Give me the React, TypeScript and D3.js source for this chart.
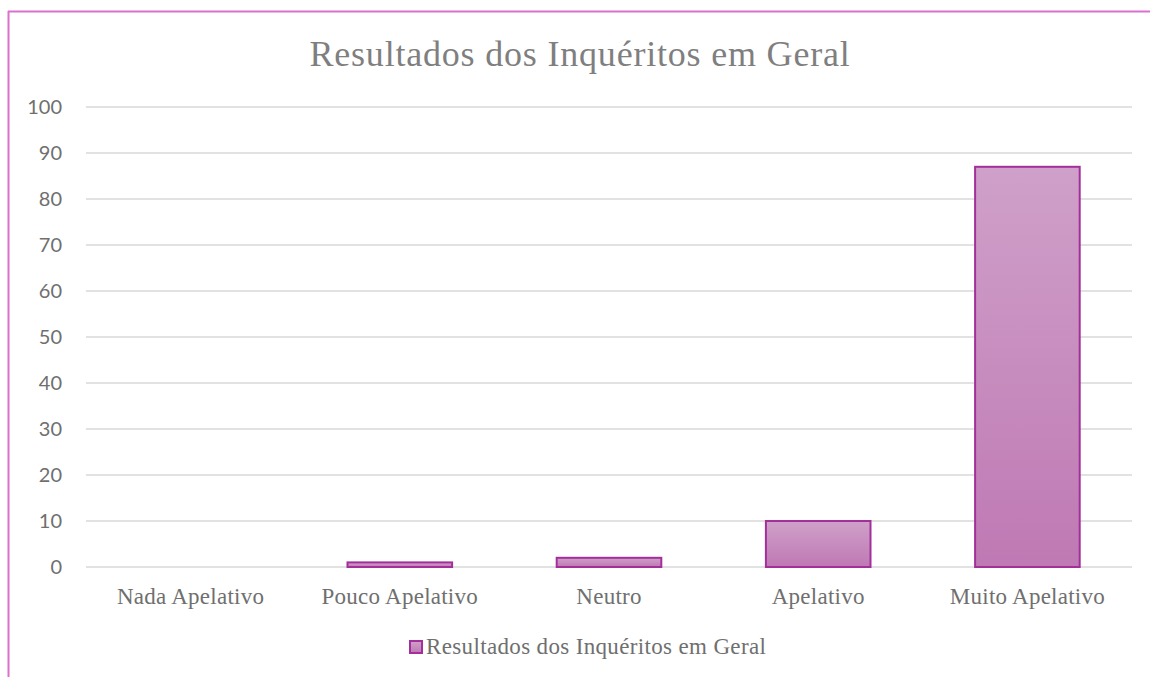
import React from "react";
import * as d3 from "d3";

const categories = ["Nada Apelativo", "Pouco Apelativo", "Neutro", "Apelativo", "Muito Apelativo"];
const values = [0, 1, 2, 10, 87];
const yTicks = [0, 10, 20, 30, 40, 50, 60, 70, 80, 90, 100];
const seriesName = "Resultados dos Inquéritos em Geral";
const title = "Resultados dos Inquéritos em Geral";

export default function App() {
  const W = 1150, H = 677;
  const x = d3.scaleBand<string>().domain(categories).range([86, 1132]).paddingInner(0.5).paddingOuter(0.25);
  const y = d3.scaleLinear().domain([0, 100]).range([567, 107]);
  const serif = "'Liberation Serif', 'Times New Roman', serif";
  const sans = "Lato, 'Open Sans', sans-serif";
  return (
    <svg width={W} height={H} style={{ position: "absolute", left: 0, top: 0 }}>
      <defs>
        <linearGradient id="barGrad" x1="0" y1="0" x2="0" y2="1">
          <stop offset="0" stopColor="#cfa0c9" />
          <stop offset="1" stopColor="#bf79b4" />
        </linearGradient>
      </defs>
      <rect x={0} y={0} width={W} height={H} fill="#fff" />
      <line x1={8} y1={11.5} x2={W} y2={11.5} stroke="#da70d0" strokeWidth={2} />
      <line x1={8.5} y1={11} x2={8.5} y2={H} stroke="#da70d0" strokeWidth={2} />
      <text x={580} y={66} textAnchor="middle" fontFamily={serif} fontSize={36} letterSpacing={0.8} fill="#7f7f7f">{title}</text>
      {yTicks.map((t) => (
        <g key={t}>
          <line x1={86} x2={1132} y1={y(t)} y2={y(t)} stroke="#d9d9d9" strokeWidth={1.5} />
          <text x={62} y={y(t)} dy="0.36em" textAnchor="end" fontFamily={sans} fontSize={20} fill="#6f6f6f">{t}</text>
        </g>
      ))}
      {categories.map((c, i) => (
        <g key={c}>
          {values[i] > 0 && (
            <rect x={x(c)!} y={y(values[i])} width={x.bandwidth()} height={y(0) - y(values[i])}
              fill="url(#barGrad)" stroke="#a3309a" strokeWidth={2} />
          )}
          <text x={x(c)! + x.bandwidth() / 2} y={604} textAnchor="middle" fontFamily={serif} fontSize={23} letterSpacing={0.25} fill="#6f6f6f">{c}</text>
        </g>
      ))}
      <rect x={410} y={641} width={12} height={12} fill="url(#barGrad)" stroke="#a3309a" strokeWidth={2} />
      <text x={426} y={654} fontFamily={serif} fontSize={23} letterSpacing={0.35} fill="#6f6f6f">{seriesName}</text>
    </svg>
  );
}
